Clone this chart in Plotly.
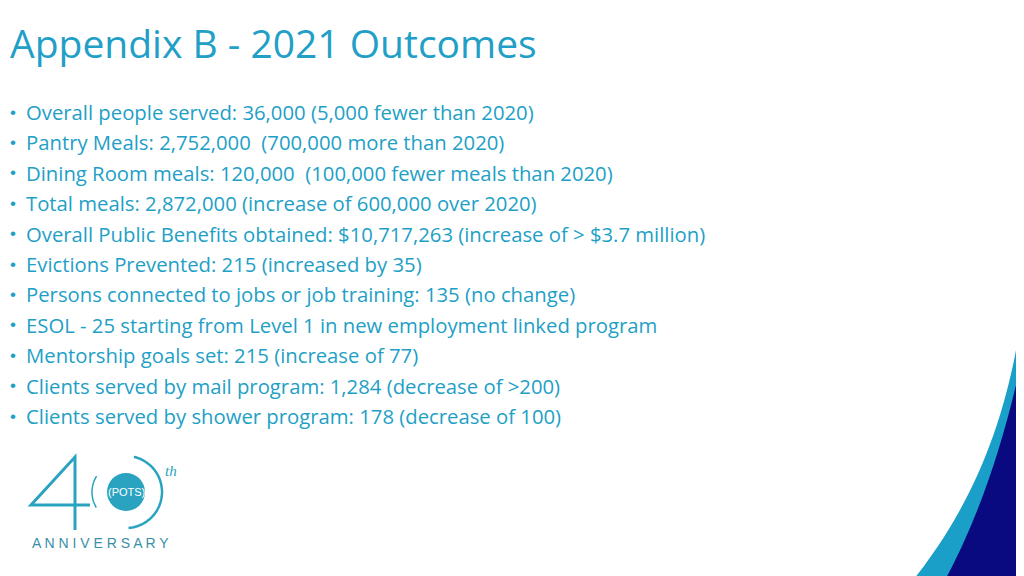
import numpy as np
import plotly.graph_objects as go

title = "Appendix B - 2021 Outcomes"
bullets = [
    "Overall people served: 36,000 (5,000 fewer than 2020)",
    "Pantry Meals: 2,752,000  (700,000 more than 2020)",
    "Dining Room meals: 120,000  (100,000 fewer meals than 2020)",
    "Total meals: 2,872,000 (increase of 600,000 over 2020)",
    "Overall Public Benefits obtained: $10,717,263 (increase of > $3.7 million)",
    "Evictions Prevented: 215 (increased by 35)",
    "Persons connected to jobs or job training: 135 (no change)",
    "ESOL - 25 starting from Level 1 in new employment linked program",
    "Mentorship goals set: 215 (increase of 77)",
    "Clients served by mail program: 1,284 (decrease of >200)",
    "Clients served by shower program: 178 (decrease of 100)",
]

TEAL = "#229fc6"
LOGO = "#2aa3c0"
FONT = "Open Sans"

fig = go.Figure()
# page offset compensation
fig.update_xaxes(range=[10, 1034], visible=False)
fig.update_yaxes(range=[584, 8], visible=False)

fig.add_annotation(x=10, y=42, text=title, showarrow=False, xanchor="left", yanchor="middle",
                   font=dict(family=FONT, size=39, color=TEAL))
for i, b in enumerate(bullets):
    y = 112 + i * 30.4
    fig.add_annotation(x=10, y=y, text="•", showarrow=False, xanchor="left", yanchor="middle",
                       font=dict(family="Liberation Sans", size=17, color=TEAL))
    fig.add_annotation(x=26, y=y, text=b, showarrow=False, xanchor="left", yanchor="middle",
                       font=dict(family=FONT, size=20.3, color=TEAL))

# corner swoosh
fig.add_shape(type="path", path="M 1030 255 C 1020 400, 980 500, 912 584 L 1034 584 Z",
              fillcolor="#1aa0c8", line_width=0, layer="below")
fig.add_shape(type="path", path="M 1030 330 C 1010 430, 985 510, 945 584 L 1034 584 Z",
              fillcolor="#0a0a80", line_width=0, layer="below")

# 40th logo
fig.add_shape(type="path", path="M 77 530 L 77 457 L 33 505 L 92 505",
              line=dict(color=LOGO, width=3))
t = np.linspace(-1.35, 1.5, 60)
arc = "M " + " L ".join(f"{128 + 36 * np.cos(a):.1f} {492 + 36 * np.sin(a):.1f}" for a in t)
fig.add_shape(type="path", path=arc, line=dict(color=LOGO, width=2.5))
t2 = np.linspace(2.6, 3.7, 20)
arc2 = "M " + " L ".join(f"{124 + 30 * np.cos(a):.1f} {492 + 30 * np.sin(a):.1f}" for a in t2)
fig.add_shape(type="path", path=arc2, line=dict(color=LOGO, width=1.5))
fig.add_shape(type="circle", x0=109, x1=147, y0=473, y1=511, fillcolor=LOGO, line_width=0)
fig.add_annotation(x=128, y=492, text="(POTS)", showarrow=False,
                   font=dict(family="Liberation Sans", size=11, color="white"))
fig.add_annotation(x=173, y=471, text="<i>th</i>", showarrow=False,
                   font=dict(family="Liberation Serif", size=15, color=LOGO))
fig.add_annotation(x=102, y=543, text="A N N I V E R S A R Y", showarrow=False,
                   font=dict(family="Liberation Sans", size=14, color="#3a8fa6"))

fig.update_layout(width=1024, height=576, margin=dict(l=0, r=0, t=0, b=0),
                  plot_bgcolor="white", paper_bgcolor="white", showlegend=False)
fig.write_html("out.html")
